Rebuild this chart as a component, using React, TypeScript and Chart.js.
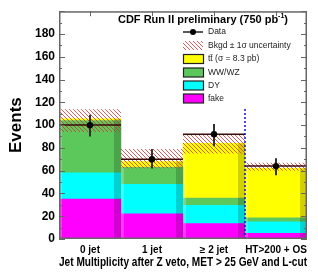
import React, { useEffect, useRef } from "react";
import { Chart, registerables } from "chart.js";

Chart.register(...registerables);

const categories = ["0 jet", "1 jet", "\u2265 2 jet", "HT>200 + OS"];
const fake = [35, 22, 13.5, 5];
const dy = [23, 26, 16, 10];
const wwwz = [46, 15, 6.5, 3.5];
const ttbar = [1.5, 5, 48, 43.5];
const bandLow = [94, 62, 75, 60];
const bandHigh = [114, 79, 91.5, 67];
const dataVals = [100, 70, 92, 64];
const dataErrLow = [90, 62, 81.5, 56];
const dataErrHigh = [109, 79, 101, 71];
const yTickValues = [0, 20, 40, 60, 80, 100, 120, 140, 160, 180];
const vetoLineTop = 115;

const FONT = "'Liberation Sans', Arial, sans-serif";
const C_FAKE = "#ff00ff";
const C_DY = "#00ffff";
const C_WW = "#5cc85c";
const C_TT = "#ffff00";

function makeHatch(ctx: CanvasRenderingContext2D) {
  const c = document.createElement("canvas");
  c.width = 4;
  c.height = 4;
  const g = c.getContext("2d")!;
  g.strokeStyle = "rgba(215,50,50,0.8)";
  g.lineWidth = 1;
  g.beginPath();
  g.moveTo(-1, -1);
  g.lineTo(5, 5);
  g.moveTo(-1, 3);
  g.lineTo(1, 5);
  g.moveTo(3, -1);
  g.lineTo(5, 1);
  g.stroke();
  return ctx.createPattern(c, "repeat")!;
}

const overlayPlugin = {
  id: "overlay",
  afterDatasetsDraw(chart: any) {
    const ctx: CanvasRenderingContext2D = chart.ctx;
    const x = chart.scales.x;
    const y = chart.scales.y;
    const area = chart.chartArea;
    const n = categories.length;
    const binW = (area.right - area.left) / n;

    // 3D shading on bars
    for (let d = 0; d < chart.data.datasets.length; d++) {
      const meta = chart.getDatasetMeta(d);
      meta.data.forEach((bar: any) => {
        const props = bar.getProps(["x", "y", "base", "width"], true);
        const l = props.x - props.width / 2;
        const r = props.x + props.width / 2;
        const top = Math.min(props.y, props.base);
        const h = Math.abs(props.base - props.y);
        ctx.fillStyle = "rgba(0,0,0,0.18)";
        ctx.fillRect(r - 7, top, 7, h);
        ctx.fillStyle = "rgba(255,255,255,0.22)";
        ctx.fillRect(l, top, 3, h);
      });
    }

    const hatch = makeHatch(ctx);
    for (let i = 0; i < n; i++) {
      const cx = x.getPixelForValue(i);
      const l = cx - binW / 2;
      const yt = y.getPixelForValue(bandHigh[i]);
      const yb = y.getPixelForValue(bandLow[i]);
      ctx.fillStyle = hatch;
      ctx.fillRect(l, yt, binW, yb - yt);
    }

    // data lines
    ctx.strokeStyle = "#3a0a0a";
    ctx.lineWidth = 1.5;
    for (let i = 0; i < n; i++) {
      const cx = x.getPixelForValue(i);
      const yy = y.getPixelForValue(dataVals[i]);
      ctx.beginPath();
      ctx.moveTo(cx - binW / 2, yy);
      ctx.lineTo(cx + binW / 2, yy);
      ctx.stroke();
    }
    // error bars
    ctx.strokeStyle = "#333";
    ctx.lineWidth = 2;
    for (let i = 0; i < n; i++) {
      const cx = x.getPixelForValue(i);
      ctx.beginPath();
      ctx.moveTo(cx, y.getPixelForValue(dataErrLow[i]));
      ctx.lineTo(cx, y.getPixelForValue(dataErrHigh[i]));
      ctx.stroke();
    }
    ctx.fillStyle = "#000";
    for (let i = 0; i < n; i++) {
      const cx = x.getPixelForValue(i);
      ctx.beginPath();
      ctx.arc(cx, y.getPixelForValue(dataVals[i]), 3.2, 0, Math.PI * 2);
      ctx.fill();
    }

    // veto dotted line
    const vx = (x.getPixelForValue(2) + x.getPixelForValue(3)) / 2;
    ctx.save();
    ctx.strokeStyle = "#1010d0";
    ctx.lineWidth = 1.5;
    ctx.setLineDash([2, 2]);
    ctx.beginPath();
    ctx.moveTo(vx, y.getPixelForValue(0));
    ctx.lineTo(vx, y.getPixelForValue(vetoLineTop));
    ctx.stroke();
    ctx.restore();

    // frame
    ctx.strokeStyle = "#666";
    ctx.lineWidth = 1.5;
    ctx.strokeRect(area.left + 0.75, area.top + 0.75, area.right - area.left - 1.5, area.bottom - area.top - 1.5);
    // axis ticks (inward)
    ctx.lineWidth = 1;
    ctx.strokeStyle = "#666";
    for (let v = 0; v <= 200; v += 10) {
      const yy = Math.round(y.getPixelForValue(v)) + 0.5;
      const len = v % 20 === 0 ? 6 : 3;
      ctx.beginPath();
      ctx.moveTo(area.right, yy);
      ctx.lineTo(area.right - len, yy);
      ctx.moveTo(area.left, yy);
      ctx.lineTo(area.left + len, yy);
      ctx.stroke();
    }
    for (let i = 0; i < n; i++) {
      const cx = Math.round(x.getPixelForValue(i)) + 0.5;
      ctx.beginPath();
      ctx.moveTo(cx, area.top);
      ctx.lineTo(cx, area.top + 5);
      ctx.stroke();
    }

    // title
    ctx.fillStyle = "#000";
    ctx.textBaseline = "alphabetic";
    ctx.textAlign = "left";
    ctx.font = `bold 11px ${FONT}`;
    const t1 = "CDF Run II preliminary (750 pb";
    const w1 = ctx.measureText(t1).width;
    ctx.font = `bold 7px ${FONT}`;
    const w2 = ctx.measureText("-1").width;
    ctx.font = `bold 11px ${FONT}`;
    const w3 = ctx.measureText(")").width;
    let tx = 288 - (w1 + w2 + w3);
    const ty = 23;
    ctx.fillText(t1, tx, ty);
    tx += w1;
    ctx.font = `bold 7px ${FONT}`;
    ctx.fillText("-1", tx, ty - 5);
    tx += w2;
    ctx.font = `bold 11px ${FONT}`;
    ctx.fillText(")", tx, ty);

    // legend
    const lx = 183;
    const rows = [32, 45.5, 59, 72.5, 85.5, 98.5];
    ctx.font = `8.5px ${FONT}`;
    ctx.textBaseline = "middle";
    // Data
    ctx.strokeStyle = "#222";
    ctx.lineWidth = 1.5;
    ctx.beginPath();
    ctx.moveTo(lx, rows[0]);
    ctx.lineTo(lx + 20, rows[0]);
    ctx.stroke();
    ctx.fillStyle = "#000";
    ctx.beginPath();
    ctx.arc(lx + 10, rows[0], 3, 0, Math.PI * 2);
    ctx.fill();
    ctx.fillStyle = "#222";
    ctx.fillText("Data", lx + 25, rows[0]);
    // band
    ctx.fillStyle = hatch;
    ctx.fillRect(lx, rows[1] - 4.5, 20, 9);
    ctx.fillStyle = "#222";
    ctx.fillText("Bkgd \u00b1 1\u03c3 uncertainty", lx + 25, rows[1]);
    const boxes: [string, string][] = [
      [C_TT, "tt\u0304 (\u03c3 = 8.3 pb)"],
      [C_WW, "WW/WZ"],
      [C_DY, "DY"],
      [C_FAKE, "fake"],
    ];
    boxes.forEach(([col, label], k) => {
      const ry = rows[k + 2];
      ctx.fillStyle = col;
      ctx.fillRect(lx, ry - 4.5, 20, 9);
      ctx.strokeStyle = "#222";
      ctx.lineWidth = 1.2;
      ctx.strokeRect(lx + 0.5, ry - 4.5, 20, 9);
      ctx.fillStyle = "#222";
      ctx.fillText(label, lx + 25, ry);
    });
  },
};

export default function App() {
  const ref = useRef<HTMLCanvasElement>(null);
  useEffect(() => {
    const chart = new Chart(ref.current!, {
      type: "bar",
      data: {
        labels: categories,
        datasets: [
          { label: "fake", data: fake, backgroundColor: C_FAKE },
          { label: "DY", data: dy, backgroundColor: C_DY },
          { label: "WW/WZ", data: wwwz, backgroundColor: C_WW },
          { label: "tt", data: ttbar, backgroundColor: C_TT },
        ].map((d) => ({ ...d, borderWidth: 0, barPercentage: 1, categoryPercentage: 1 })),
      },
      options: {
        animation: false,
        responsive: false,
        devicePixelRatio: 1,
        layout: { padding: { top: 1, right: 11, left: 0, bottom: 0 } },
        plugins: { legend: { display: false }, tooltip: { enabled: false } },
        scales: {
          x: {
            stacked: true,
            grid: { display: false, drawTicks: false },
            border: { display: false },
            ticks: {
              color: "#000",
              font: { family: FONT, weight: "bold", size: 10 },
              padding: 5,
              maxRotation: 0,
              autoSkip: false,
            },
            title: {
              display: true,
              text: "Jet Multiplicity after Z veto, MET > 25 GeV and L-cut",
              color: "#000",
              font: { family: FONT, weight: "bold", size: 12 },
              padding: { top: 0, bottom: 2 },
            },
            afterFit: (s: any) => {
              s.height = 33;
            },
          },
          y: {
            stacked: true,
            min: 0,
            max: 200,
            grid: { display: false, drawTicks: false },
            border: { display: false },
            afterBuildTicks: (s: any) => {
              s.ticks = yTickValues.map((v) => ({ value: v }));
            },
            ticks: {
              color: "#000",
              font: { family: FONT, weight: "bold", size: 12 },
              padding: 4,
            },
            title: {
              display: true,
              text: "Events",
              color: "#000",
              font: { family: FONT, weight: "bold", size: 17 },
              padding: { top: 6, bottom: 0 },
            },
            afterFit: (s: any) => {
              s.width = 59;
            },
          },
        },
      },
      plugins: [overlayPlugin],
    } as any);
    return () => chart.destroy();
  }, []);
  return (
    <div style={{ position: "fixed", left: 0, top: 0, width: 318, height: 272, background: "#fff" }}>
      <canvas ref={ref} width={318} height={272} style={{ width: 318, height: 272 }} />
    </div>
  );
}
